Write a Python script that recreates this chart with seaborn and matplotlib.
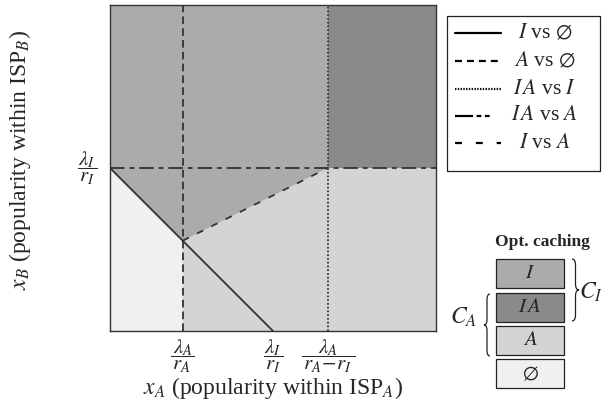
import matplotlib
matplotlib.use('Agg')
import matplotlib.pyplot as plt
import seaborn as sns
from matplotlib.path import Path
from matplotlib.patches import PathPatch, Rectangle

# thresholds, as fractions of the axis ranges
x_lam_a = 0.223   # lambda_A / r_A
x_lam_i = 0.500   # lambda_I / r_I
x_ia = 0.668      # lambda_A / (r_A - r_I)
y_lam_i = 0.500   # lambda_I / r_I on the x_B axis

x_ticks = [x_lam_a, x_lam_i, x_ia]
x_ticklabels = ['$\\lambda_A$\n$\\overline{\\,r_A\\,}$',
                '$\\lambda_I$\n$\\overline{\\,r_I\\,}$',
                '$\\lambda_A$\n$\\overline{\\,r_A\\!-\\!r_I\\,}$']
y_ticks = [y_lam_i]
y_ticklabels = ['$\\lambda_I$\n$\\overline{\\,r_I\\,}$']

# caching strategies and their shades
strategies = [r'$I$', r'$I\,A$', r'$A$', r'$\emptyset$']
shades = ['#ababab', '#8a8a8a', '#d4d4d4', '#f0f0f0']

# boundary lines (legend label, dash pattern in plot, dash pattern in key)
boundary_labels = [r'$I$ vs $\emptyset$', r'$A$ vs $\emptyset$', r'$I\,A$ vs $I$',
                   r'$I\,A$ vs $A$', r'$I$ vs $A$']
boundary_dashes = [None, (5.5, 3), (1.2, 1.5), (10.5, 3.5, 3.5, 3.5), (5, 6.5)]
key_dashes = [None, (5, 3.6), (1, 1), (13, 2.5, 3.5, 2.5, 3.5, 60), (5, 10)]
line_col = '#333333'

sns.set_style('white')
plt.rcParams['font.family'] = ['Liberation Serif', 'DejaVu Serif']
plt.rcParams['mathtext.fontset'] = 'stix'
plt.rcParams['lines.scale_dashes'] = False

fig = plt.figure(figsize=(6.12, 4.03), dpi=100)
ax = fig.add_axes([110 / 612, 72 / 403, 326 / 612, 326 / 403])
ax.set_xlim(0, 1)
ax.set_ylim(0, 1)

# regions
y_cross = y_lam_i * (1 - x_lam_a / x_lam_i)
ax.set_facecolor(shades[2])
ax.fill([0, x_ia, x_ia, x_lam_a, 0], [1, 1, y_lam_i, y_cross, y_lam_i],
        color=shades[0], lw=0)
ax.fill([x_ia, x_ia, 1, 1], [y_lam_i, 1, 1, y_lam_i], color=shades[1], lw=0)
ax.fill([0, 0, x_lam_a, x_lam_a], [0, y_lam_i, y_cross, 0], color=shades[3], lw=0)

# boundaries
segments = [
    ([0, x_lam_i], [y_lam_i, 0]),
    ([x_lam_a, x_lam_a], [0, 1]),
    ([x_ia, x_ia], [0, 1]),
    ([0, 1], [y_lam_i, y_lam_i]),
    ([x_lam_a, x_ia], [y_cross, y_lam_i]),
]
for (xs, ys), d in zip(segments, boundary_dashes):
    ln, = ax.plot(xs, ys, color=line_col, lw=1.3)
    if d is not None:
        ln.set_dashes(d)

ax.set_xticks(x_ticks)
ax.set_xticklabels(x_ticklabels, fontsize=15, linespacing=0.72,
                   multialignment='center')
ax.set_yticks(y_ticks)
ax.set_yticklabels(y_ticklabels, fontsize=15, linespacing=0.72,
                   multialignment='center')
ax.tick_params(axis='x', length=0, pad=5)
ax.tick_params(axis='y', length=0, pad=9)
for s in ax.spines.values():
    s.set_color('#333333')
    s.set_linewidth(1.0)

ax.set_xlabel(r'$x_A$ (popularity within ISP$_A$)', fontsize=17)
ax.xaxis.label.set_va('center')
ax.xaxis.set_label_coords(0.5, (331 - 388) / 326)
ax.set_ylabel(r'$x_B$ (popularity within ISP$_B$)', fontsize=17)
ax.yaxis.label.set_va('center')
ax.yaxis.set_label_coords((20 - 110) / 326, (331 - 160) / 326)

# overlay in pixel units for the two keys
ov = fig.add_axes([0, 0, 1, 1])
ov.set_xlim(0, 612)
ov.set_ylim(403, 0)
ov.axis('off')

ov.add_patch(Rectangle((447, 16), 153, 155, facecolor='white',
                       edgecolor='#222222', lw=0.9))
rows = [33, 61, 89, 116, 143]
for yy, lab, d in zip(rows, boundary_labels, key_dashes):
    ln, = ov.plot([455, 501], [yy, yy], color='black', lw=1.6)
    if d is not None:
        ln.set_dashes(d)
    ov.text(545, yy, lab, ha='center', va='center', fontsize=15.5)

ov.text(542, 242, 'Opt. caching', ha='center', va='center', fontsize=12.5,
        fontweight='bold')
box_top = [259, 292.5, 326, 359.3]
for top, lab, c in zip(box_top, strategies, shades):
    ov.add_patch(Rectangle((496, top), 68, 29, facecolor=c,
                           edgecolor='#222222', lw=0.9))
    ov.text(530, top + 14.5, lab, ha='center', va='center', fontsize=15)


def brace(x, y0, y1, w, direction):
    mid = (y0 + y1) / 2
    xh = x + direction * w / 2
    xt = x + direction * w
    r = w * 0.9
    verts = [(x, y0), (xh, y0), (xh, y0 + r), (xh, mid - r), (xh, mid), (xt, mid),
             (xh, mid), (xh, mid + r), (xh, y1 - r), (xh, y1), (x, y1)]
    codes = [Path.MOVETO, Path.CURVE3, Path.CURVE3, Path.LINETO, Path.CURVE3,
             Path.CURVE3, Path.CURVE3, Path.CURVE3, Path.LINETO, Path.CURVE3,
             Path.CURVE3]
    ov.add_patch(PathPatch(Path(verts, codes), fill=False, lw=0.9,
                           edgecolor='#222222'))


brace(572, 259, 321, 7, 1)
ov.text(591, 292, r'$C_I$', ha='center', va='center', fontsize=17)
brace(490, 294, 356, 6, -1)
ov.text(464, 317, r'$C_A$', ha='center', va='center', fontsize=17)

fig.savefig('out.png', dpi=100)
